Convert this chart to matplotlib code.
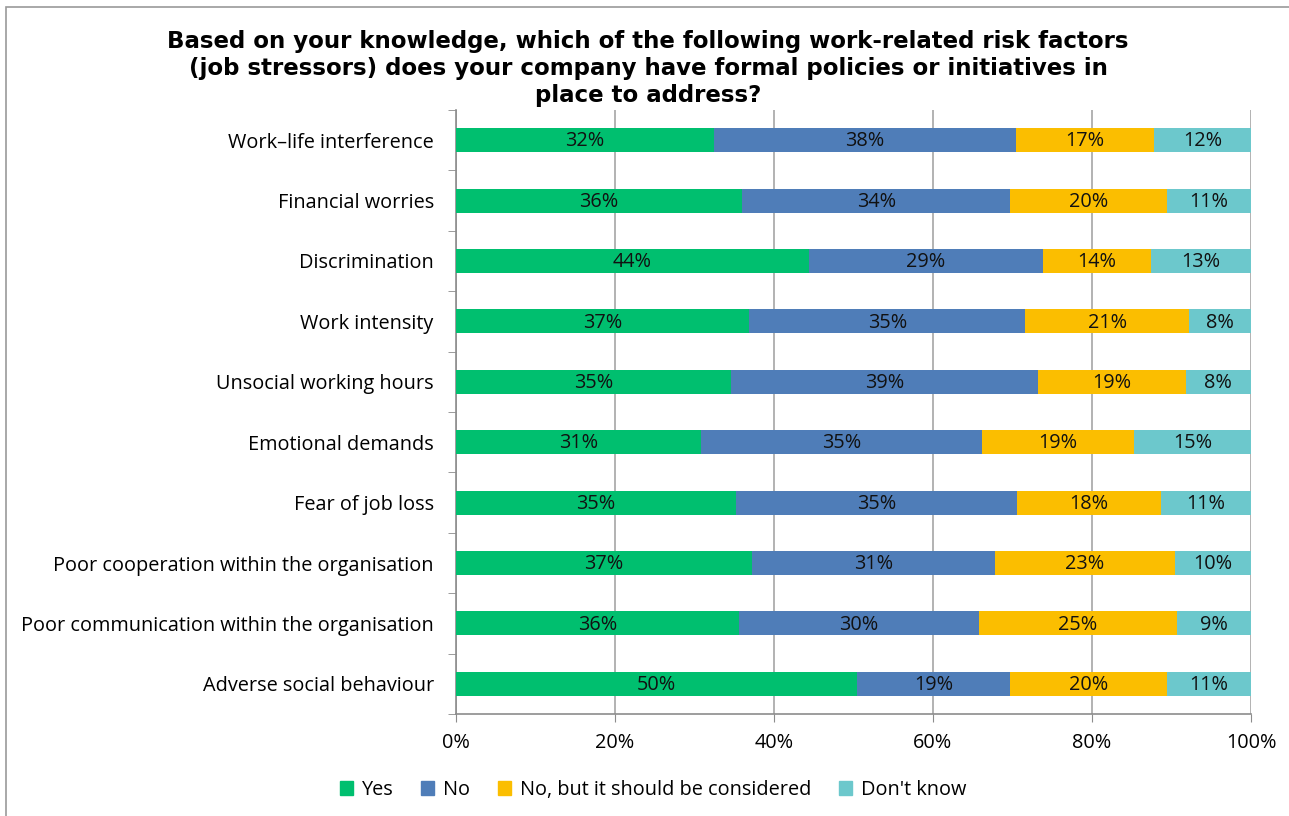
import matplotlib.pyplot as plt
import matplotlib.patches as mpatches
import numpy as np

# ========== data ==========
categories = [
    "Work\u2013life interference",
    "Financial worries",
    "Discrimination",
    "Work intensity",
    "Unsocial working hours",
    "Emotional demands",
    "Fear of job loss",
    "Poor cooperation within the organisation",
    "Poor communication within the organisation",
    "Adverse social behaviour",
]
yes_vals = [32.4, 36.0, 44.4, 36.9, 34.6, 30.8, 35.2, 37.2, 35.6, 50.4]
no_vals = [38.0, 33.7, 29.4, 34.7, 38.6, 35.4, 35.4, 30.6, 30.2, 19.3]
consider_vals = [17.4, 19.7, 13.6, 20.6, 18.6, 19.1, 18.1, 22.6, 24.9, 19.7]
dontknow_vals = [12.2, 10.6, 12.6, 7.8, 8.2, 14.7, 11.3, 9.6, 9.3, 10.6]

series_names = ["Yes", "No", "No, but it should be considered", "Don't know"]
colors = ["#00BF6F", "#4F7DB8", "#FBBE00", "#6CC8CC"]

title = ("Based on your knowledge, which of the following work-related risk factors\n"
         "(job stressors) does your company have formal policies or initiatives in\n"
         "place to address?")

LABEL_FONT = ["Open Sans", "DejaVu Sans"]
FS = 14.3
W, H = 1289, 816

fig = plt.figure(figsize=(W / 100, H / 100), dpi=100)

# outer frame (as in the source image)
fig.add_artist(mpatches.Rectangle((6 / W, -0.1), 1.2, (816 - 7) / H + 0.1,
                                  transform=fig.transFigure, fill=False,
                                  edgecolor="#9A9A9A", linewidth=1.2))

ax = fig.add_axes([456 / W, (H - 714) / H, (1251 - 456) / W, (714 - 110) / H])

y = np.arange(len(categories))[::-1]
series = [yes_vals, no_vals, consider_vals, dontknow_vals]
left = np.zeros(len(categories))
for name, vals, col in zip(series_names, series, colors):
    vals = np.array(vals)
    ax.barh(y, vals, left=left, height=0.4, color=col, label=name, zorder=3)
    for yi, l, v in zip(y, left, vals):
        ax.text(l + v / 2, yi - 0.02, f"{v:.0f}%", ha="center", va="center",
                fontsize=FS, color="#111111", family=LABEL_FONT, zorder=4)
    left += vals

ax.set_xlim(0, 100)
ax.set_ylim(-0.5, len(categories) - 0.5)
ax.set_xticks(np.arange(0, 101, 20))
ax.set_xticklabels([f"{t}%" for t in range(0, 101, 20)], family=LABEL_FONT, fontsize=FS)
ax.set_yticks(y)
ax.set_yticklabels(categories, family=LABEL_FONT, fontsize=FS)
ax.set_yticks(np.arange(-0.5, len(categories), 1.0), minor=True)

ax.tick_params(axis="y", which="major", length=0, pad=16)
ax.tick_params(axis="y", which="minor", length=6, color="#8C8C8C", direction="out")
ax.tick_params(axis="x", which="major", length=6, color="#8C8C8C", direction="out", pad=8)

ax.grid(axis="x", color="#A6A6A6", linewidth=1.2, zorder=0)
for s in ["top", "right"]:
    ax.spines[s].set_visible(False)
for s in ["left", "bottom"]:
    ax.spines[s].set_color("#8C8C8C")
    ax.spines[s].set_linewidth(1.2)

fig.text(648 / W, 1 - 30 / H, title, ha="center", va="top", fontsize=16.5,
         fontweight="bold", family="DejaVu Sans", linespacing=1.22)

handles = [mpatches.Patch(color=c, label=n) for n, c in zip(series_names, colors)]
fig.legend(handles=handles, loc="center", bbox_to_anchor=(653 / W, 1 - 790 / H),
           ncol=4, frameon=False, prop={"family": LABEL_FONT, "size": FS},
           handlelength=0.65, handleheight=0.65, handletextpad=0.45, columnspacing=1.4)

fig.savefig("out.png", dpi=100)
